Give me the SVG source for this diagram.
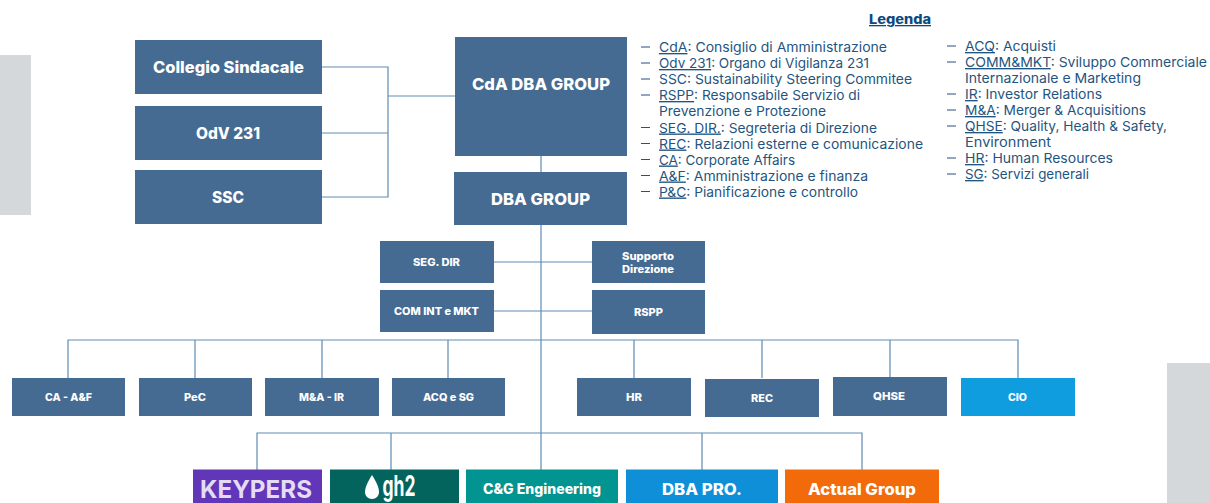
<svg xmlns="http://www.w3.org/2000/svg" width="1210" height="503" viewBox="0 0 1210 503">
<style>
.b{fill:#466b92}
text{font-family:"Inter","Open Sans","Liberation Sans",sans-serif}
.t{fill:#fff;font-weight:800;text-anchor:middle}
.s{font-size:10.5px}.m{font-size:15.5px}.l{font-size:16.5px}
.g{fill:#1f5580;font-size:13.500px}
.d{stroke:#1f5580;stroke-width:1.2}
.c{fill:none;stroke:#5f8bb5;stroke-width:1.2}
</style>
<rect x="0" y="55" width="31" height="160" fill="#d5d8da"/>
<rect x="1167" y="363" width="43" height="140" fill="#d5d8da"/>
<g id="connectors" class="c">
<path d="M322 67H388V197H322M322 133H388M388 96H455"/>
<path d="M541 156V172M541 225V433"/>
<path d="M494 262H592M494 311H592"/>
<path d="M68 378V340H1018V378M195 340V378M322 340V378M448 340V378M634 340V378M762 340V378M890 340V378"/>
<path d="M257 470V433H862V470M391 433V470M541 433V470M702 433V470"/>
</g>
<g id="collegio"><rect class="b" x="135" y="40" width="187" height="54"/><text class="t m" x="228.500" y="73" textLength="151" lengthAdjust="spacingAndGlyphs">Collegio Sindacale</text></g>
<g id="odv"><rect class="b" x="135" y="106" width="187" height="54"/><text class="t m" x="228" y="139" textLength="64" lengthAdjust="spacingAndGlyphs">OdV 231</text></g>
<g id="ssc"><rect class="b" x="135" y="170" width="187" height="54"/><text class="t m" x="228" y="203" textLength="32" lengthAdjust="spacingAndGlyphs">SSC</text></g>
<g id="cda"><rect class="b" x="455" y="37" width="172" height="119"/><text class="t l" x="541" y="90" textLength="138" lengthAdjust="spacingAndGlyphs">CdA DBA GROUP</text></g>
<g id="dba"><rect class="b" x="454" y="172" width="173" height="53"/><text class="t l" x="540.500" y="205" textLength="99" lengthAdjust="spacingAndGlyphs">DBA GROUP</text></g>
<g id="segdir"><rect class="b" x="380" y="241" width="114" height="42"/><text class="t s" x="436.500" y="266" textLength="47" lengthAdjust="spacingAndGlyphs">SEG. DIR</text></g>
<g id="supporto"><rect class="b" x="592" y="241" width="113" height="42"/><text class="t s" x="648" y="260" textLength="52" lengthAdjust="spacingAndGlyphs">Supporto</text><text class="t s" x="648" y="273" textLength="52" lengthAdjust="spacingAndGlyphs">Direzione</text></g>
<g id="comint"><rect class="b" x="380" y="290" width="114" height="42"/><text class="t s" x="436.500" y="315" textLength="85" lengthAdjust="spacingAndGlyphs">COM INT e  MKT</text></g>
<g id="rspp"><rect class="b" x="592" y="290" width="113" height="44"/><text class="t s" x="648.500" y="316" textLength="29" lengthAdjust="spacingAndGlyphs">RSPP</text></g>
<g id="caaf"><rect class="b" x="12" y="378" width="113" height="38"/><text class="t s" x="68.500" y="401" textLength="47" lengthAdjust="spacingAndGlyphs">CA - A&amp;F</text></g>
<g id="pec"><rect class="b" x="139" y="378" width="113" height="38"/><text class="t s" x="195" y="401" textLength="22" lengthAdjust="spacingAndGlyphs">PeC</text></g>
<g id="mair"><rect class="b" x="265" y="378" width="114" height="38"/><text class="t s" x="321.500" y="401" textLength="45" lengthAdjust="spacingAndGlyphs">M&amp;A - IR</text></g>
<g id="acqsg"><rect class="b" x="392" y="378" width="113" height="38"/><text class="t s" x="448.500" y="401" textLength="51" lengthAdjust="spacingAndGlyphs">ACQ e SG</text></g>
<g id="hr"><rect class="b" x="577" y="378" width="114" height="38"/><text class="t s" x="634" y="401" textLength="16" lengthAdjust="spacingAndGlyphs">HR</text></g>
<g id="rec"><rect class="b" x="705" y="379" width="114" height="38"/><text class="t s" x="762" y="402" textLength="22" lengthAdjust="spacingAndGlyphs">REC</text></g>
<g id="qhse"><rect class="b" x="833" y="377" width="114" height="39"/><text class="t s" x="889" y="400" textLength="32" lengthAdjust="spacingAndGlyphs">QHSE</text></g>
<g id="cio"><rect x="961" y="378" width="114" height="38" fill="#0f9ddf"/><text class="t s" x="1017.500" y="401" textLength="19" lengthAdjust="spacingAndGlyphs">CIO</text></g>
<g id="keypers"><rect x="193" y="469.500" width="129" height="33.500" fill="#6236b8"/><text fill="#e4dcf4" font-weight="700" text-anchor="middle" font-size="24" x="256" y="498" textLength="112" lengthAdjust="spacingAndGlyphs">KEYPERS</text></g>
<g id="gh2"><rect x="330" y="469.500" width="129" height="33.500" fill="#03645e"/><path d="M372 475C367 483 365 488 365 492C365 496 368 499 372 499C376 499 379 496 379 492C379 488 377 483 372 475Z" fill="#fff"/><text fill="#fff" font-weight="700" text-anchor="middle" font-size="28" x="399" y="496" textLength="33" lengthAdjust="spacingAndGlyphs">gh2</text></g>
<g id="cg"><rect x="466" y="469.500" width="152" height="33.500" fill="#019490"/><text class="t" font-size="14" x="542" y="494" textLength="118" lengthAdjust="spacingAndGlyphs">C&amp;G Engineering</text></g>
<g id="dbapro"><rect x="626" y="469.500" width="152" height="33.500" fill="#0f8fd8"/><text class="t" font-size="15.500" x="702" y="495" textLength="80" lengthAdjust="spacingAndGlyphs">DBA PRO.</text></g>
<g id="actual"><rect x="785" y="469.500" width="154" height="33.500" fill="#f26a0a"/><text class="t" font-size="15.500" x="862" y="495" textLength="108" lengthAdjust="spacingAndGlyphs">Actual Group</text></g>
<text x="869" y="24" font-size="13" font-weight="800" fill="#0b4a80" text-decoration="underline" textLength="62" lengthAdjust="spacingAndGlyphs">Legenda</text>
<g id="legend-left" class="g">
<path class="d" d="M641 47h9M641 63h9M641 79h9M641 95h9M641 127.500h9M641 143.500h9M641 159.500h9M641 175.500h9M641 191.500h9"/>
<text x="659" y="52" textLength="228" lengthAdjust="spacingAndGlyphs"><tspan text-decoration="underline">CdA</tspan>: Consiglio di Amministrazione</text>
<text x="659" y="68" textLength="210" lengthAdjust="spacingAndGlyphs"><tspan text-decoration="underline">Odv 231</tspan>: Organo di Vigilanza 231</text>
<text x="659" y="84" textLength="253" lengthAdjust="spacingAndGlyphs">SSC: Sustainability Steering Commitee</text>
<text x="659" y="100" textLength="201" lengthAdjust="spacingAndGlyphs"><tspan text-decoration="underline">RSPP</tspan>: Responsabile Servizio di</text>
<text x="659" y="116" textLength="167" lengthAdjust="spacingAndGlyphs">Prevenzione e Protezione</text>
<text x="659" y="132.500" textLength="218" lengthAdjust="spacingAndGlyphs"><tspan text-decoration="underline">SEG. DIR.</tspan>: Segreteria di Direzione</text>
<text x="659" y="148.500" textLength="264" lengthAdjust="spacingAndGlyphs"><tspan text-decoration="underline">REC</tspan>: Relazioni esterne e comunicazione</text>
<text x="659" y="164.500" textLength="136" lengthAdjust="spacingAndGlyphs"><tspan text-decoration="underline">CA</tspan>: Corporate Affairs</text>
<text x="659" y="180.500" textLength="209" lengthAdjust="spacingAndGlyphs"><tspan text-decoration="underline">A&amp;F</tspan>: Amministrazione e finanza</text>
<text x="659" y="196.500" textLength="199" lengthAdjust="spacingAndGlyphs"><tspan text-decoration="underline">P&amp;C</tspan>: Pianificazione e controllo</text>
</g>
<g id="legend-right" class="g">
<path class="d" d="M947 46h9M947 62h9M947 94h9M947 110h9M947 126h9M947 158h9M947 174h9"/>
<text x="965" y="51" textLength="91" lengthAdjust="spacingAndGlyphs"><tspan text-decoration="underline">ACQ</tspan>: Acquisti</text>
<text x="965" y="67" textLength="242" lengthAdjust="spacingAndGlyphs"><tspan text-decoration="underline">COMM&amp;MKT</tspan>: Sviluppo Commerciale</text>
<text x="965" y="83" textLength="176" lengthAdjust="spacingAndGlyphs">Internazionale e Marketing</text>
<text x="965" y="99" textLength="137" lengthAdjust="spacingAndGlyphs"><tspan text-decoration="underline">IR</tspan>: Investor Relations</text>
<text x="965" y="115" textLength="181" lengthAdjust="spacingAndGlyphs"><tspan text-decoration="underline">M&amp;A</tspan>: Merger &amp; Acquisitions</text>
<text x="965" y="131" textLength="202" lengthAdjust="spacingAndGlyphs"><tspan text-decoration="underline">QHSE</tspan>: Quality, Health &amp; Safety,</text>
<text x="965" y="147" textLength="86" lengthAdjust="spacingAndGlyphs">Environment</text>
<text x="965" y="163" textLength="148" lengthAdjust="spacingAndGlyphs"><tspan text-decoration="underline">HR</tspan>: Human Resources</text>
<text x="965" y="179" textLength="124" lengthAdjust="spacingAndGlyphs"><tspan text-decoration="underline">SG</tspan>: Servizi generali</text>
</g>
</svg>
